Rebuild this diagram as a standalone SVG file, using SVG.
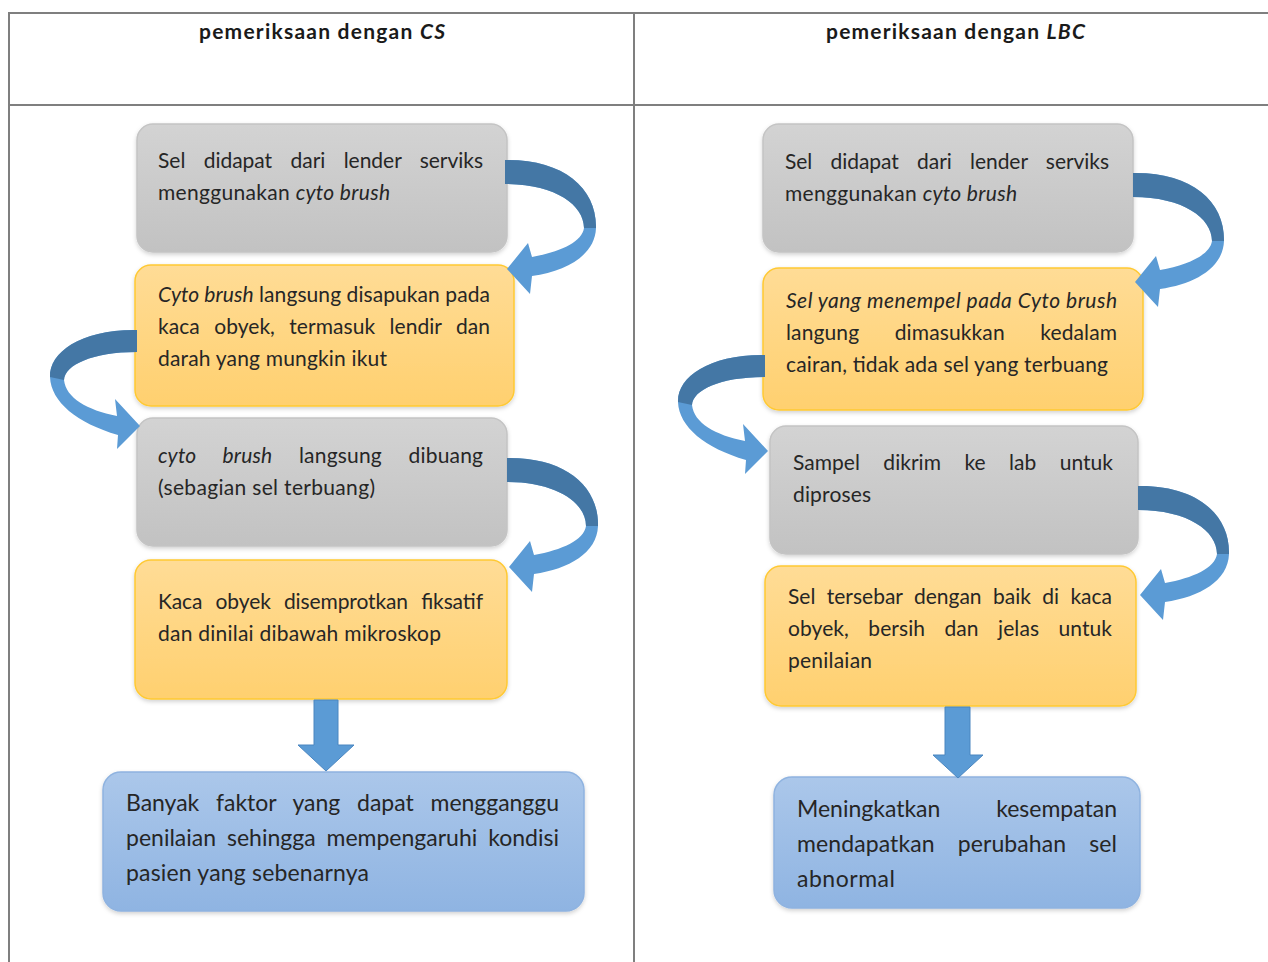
<svg xmlns="http://www.w3.org/2000/svg" width="1268" height="962" viewBox="0 0 1268 962">
<style>
.t{font-family:Lato,"Open Sans","Liberation Sans",sans-serif;font-size:21px;fill:#262626}
.lg{font-size:23px}
.h{font-family:Lato,"Open Sans","Liberation Sans",sans-serif;font-size:21px;font-weight:bold;fill:#1a1a1a}
.i{font-style:italic}
.grid{stroke:#7f7f7f;stroke-width:2;fill:none}
.gray{fill:url(#gGray);stroke:#c4c4c4;stroke-width:1.5;filter:url(#sh)}
.yel{fill:url(#gYel);stroke:#ffc933;stroke-width:1.5;filter:url(#sh)}
.blue{fill:url(#gBlue);stroke:#8fb3e0;stroke-width:1.5;filter:url(#sh)}
.al{fill:#5b9bd5}
.ad{fill:#41719c;opacity:0.85}
</style>
<defs>
<linearGradient id="gGray" x1="0" y1="0" x2="0" y2="1"><stop offset="0" stop-color="#d3d3d3"/><stop offset="1" stop-color="#c2c2c2"/></linearGradient>
<linearGradient id="gYel" x1="0" y1="0" x2="0" y2="1"><stop offset="0" stop-color="#ffdc96"/><stop offset="1" stop-color="#ffd06f"/></linearGradient>
<linearGradient id="gBlue" x1="0" y1="0" x2="0" y2="1"><stop offset="0" stop-color="#abc7ea"/><stop offset="1" stop-color="#8fb4e2"/></linearGradient>
<filter id="sh" x="-5%" y="-5%" width="110%" height="115%"><feDropShadow dx="0" dy="2" stdDeviation="2" flood-color="#000" flood-opacity="0.18"/></filter>
<g id="cr">
<path class="al" d="M0 0 C58 -1 92 28 91 68 C90 95 62 111 27 116 L25 134 L2 109 L23 83 L27 97 C55 92 77 82 79 68 C79 45 50 24 0 24 Z"/>
<path class="ad" d="M0 0 C58 -1 92 28 91 68 L79 68 C79 45 50 24 0 24 Z"/>
</g>
<g id="cl">
<path class="al" d="M0 0 C-55 -1 -88 22 -87 47 C-86 72 -60 93 -19 105 L-20 119 L3 96 L-22 69 L-20 86 C-50 80 -71 68 -73 50 C-72 35 -45 22 0 22 Z"/>
<path class="ad" d="M0 0 C-55 -1 -88 22 -87 47 L-73 50 C-72 35 -45 22 0 22 Z"/>
</g>
</defs>
<rect width="1268" height="962" fill="#ffffff"/>
<g id="table">
<line class="grid" x1="8" y1="13" x2="1268" y2="13"/>
<line class="grid" x1="8" y1="105" x2="1268" y2="105"/>
<line class="grid" x1="9" y1="12" x2="9" y2="962"/>
<line class="grid" x1="634" y1="12" x2="634" y2="962"/>
<text class="h" x="199" y="39" textLength="246">pemeriksaan dengan <tspan class="i">CS</tspan></text>
<text class="h" x="826" y="39" textLength="259">pemeriksaan dengan <tspan class="i">LBC</tspan></text>
</g>
<g id="cs1">
<rect class="gray" x="137" y="124" width="370" height="128" rx="16"/>
<text class="t" x="158" y="168" textLength="325" word-spacing="13">Sel didapat dari lender serviks</text>
<text class="t" x="158" y="200" textLength="232">menggunakan <tspan class="i">cyto brush</tspan></text>
</g>
<g id="cs2">
<rect class="yel" x="135" y="265" width="379" height="141" rx="16"/>
<text class="t" x="158" y="302" textLength="332"><tspan class="i">Cyto brush</tspan> langsung disapukan pada</text>
<text class="t" x="158" y="334" textLength="332" word-spacing="9">kaca obyek, termasuk lendir dan</text>
<text class="t" x="158" y="366" textLength="229">darah yang mungkin ikut</text>
</g>
<g id="cs3">
<rect class="gray" x="137" y="418" width="370" height="128" rx="16"/>
<text class="t" x="158" y="463" textLength="325" word-spacing="21"><tspan class="i">cyto brush</tspan> langsung dibuang</text>
<text class="t" x="158" y="495" textLength="217">(sebagian sel terbuang)</text>
</g>
<g id="cs4">
<rect class="yel" x="135" y="560" width="372" height="139" rx="16"/>
<text class="t" x="158" y="609" textLength="325" word-spacing="8">Kaca obyek disemprotkan fiksatif</text>
<text class="t" x="158" y="641" textLength="283">dan dinilai dibawah mikroskop</text>
</g>
<g id="cs5">
<rect class="blue" x="103" y="772" width="481" height="139" rx="18"/>
<text class="t lg" x="126" y="811" textLength="433" word-spacing="11">Banyak faktor yang dapat mengganggu</text>
<text class="t lg" x="126" y="846" textLength="433" word-spacing="5">penilaian sehingga mempengaruhi kondisi</text>
<text class="t lg" x="126" y="881" textLength="243">pasien yang sebenarnya</text>
</g>
<g id="lbc1">
<rect class="gray" x="763" y="124" width="370" height="128" rx="16"/>
<text class="t" x="785" y="169" textLength="324" word-spacing="13">Sel didapat dari lender serviks</text>
<text class="t" x="785" y="201" textLength="232">menggunakan <tspan class="i">cyto brush</tspan></text>
</g>
<g id="lbc2">
<rect class="yel" x="763" y="268" width="380" height="142" rx="16"/>
<text class="t i" x="786" y="308" textLength="331">Sel yang menempel pada Cyto brush</text>
<text class="t" x="786" y="340" textLength="331" word-spacing="30">langung dimasukkan kedalam</text>
<text class="t" x="786" y="372" textLength="322">cairan, tidak ada sel yang terbuang</text>
</g>
<g id="lbc3">
<rect class="gray" x="770" y="426" width="368" height="128" rx="16"/>
<text class="t" x="793" y="470" textLength="320" word-spacing="18">Sampel dikrim ke lab untuk</text>
<text class="t" x="793" y="502" textLength="78">diproses</text>
</g>
<g id="lbc4">
<rect class="yel" x="765" y="566" width="371" height="140" rx="16"/>
<text class="t" x="788" y="604" textLength="324" word-spacing="6">Sel tersebar dengan baik di kaca</text>
<text class="t" x="788" y="636" textLength="324" word-spacing="14">obyek, bersih dan jelas untuk</text>
<text class="t" x="788" y="668" textLength="84">penilaian</text>
</g>
<g id="lbc5">
<rect class="blue" x="774" y="777" width="366" height="131" rx="18"/>
<text class="t lg" x="797" y="817" textLength="320" word-spacing="50">Meningkatkan kesempatan</text>
<text class="t lg" x="797" y="852" textLength="320" word-spacing="17">mendapatkan perubahan sel</text>
<text class="t lg" x="797" y="887" textLength="98">abnormal</text>
</g>
<g id="connectors">
<use href="#cr" x="505" y="160"/>
<use href="#cl" x="137" y="330"/>
<use href="#cr" x="507" y="458"/>
<path class="al" d="M314 700 H338 V745 H354 L326 771 L298 745 H314 Z" stroke="#4a86c0" stroke-width="1"/>
<use href="#cr" x="1133" y="173"/>
<use href="#cl" x="765" y="355"/>
<use href="#cr" x="1138" y="486"/>
<path class="al" d="M945 707 H970 V755 H983 L958 778 L933 755 H945 Z" stroke="#4a86c0" stroke-width="1"/>
</g>
</svg>
